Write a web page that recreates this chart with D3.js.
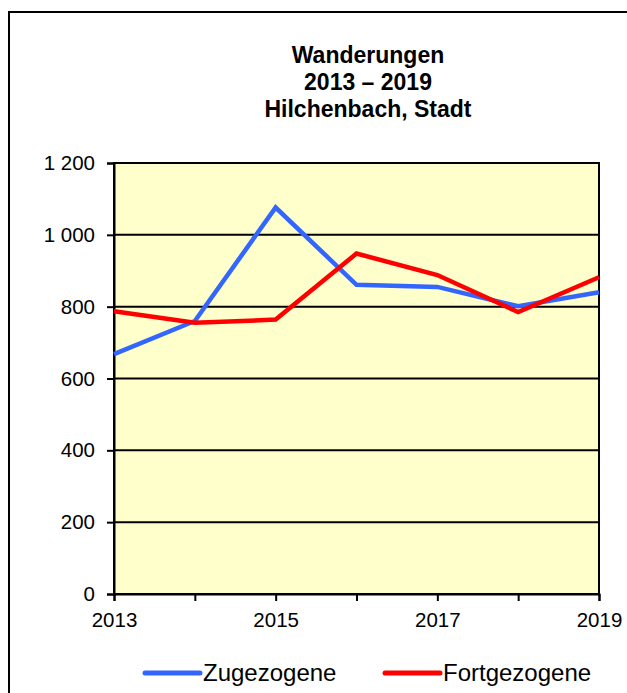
<!DOCTYPE html>
<html>
<head>
<meta charset="utf-8">
<script src="https://cdn.jsdelivr.net/npm/d3@7"></script>
<style>
  html, body { margin: 0; padding: 0; background: #fff; }
  svg { display: block; font-family: "Liberation Sans", Arial, sans-serif; }
</style>
</head>
<body>
<svg id="chart" width="627" height="693"></svg>
<script>
// Wanderungen (Zu- und Fortzüge), Hilchenbach, Stadt
const years = [2013, 2014, 2015, 2016, 2017, 2018, 2019];
const zugezogene = [668, 760, 1076, 861, 855, 801, 840];
const fortgezogene = [787, 755, 764, 948, 888, 785, 882];
const yTicks = [0, 200, 400, 600, 800, 1000, 1200];
const xLabelYears = [2013, 2015, 2017, 2019];
const titleLines = ["Wanderungen", "2013 – 2019", "Hilchenbach, Stadt"];
const seriesNames = ["Zugezogene", "Fortgezogene"];
const seriesColors = ["#3366FF", "#FF0000"];

const svg = d3.select("#chart");

// outer frame (runs past the right and bottom edge)
svg.append("rect")
  .attr("x", 9).attr("y", 12)
  .attr("width", 700).attr("height", 760)
  .attr("fill", "none").attr("stroke", "#000").attr("stroke-width", 2);

const plot = { left: 114, right: 599, top: 163, bottom: 594 };

const x = d3.scaleLinear().domain([2013, 2019]).range([plot.left, plot.right]);
const y = d3.scaleLinear().domain([0, 1200]).range([plot.bottom, plot.top]);

// plot background
svg.append("rect")
  .attr("x", plot.left).attr("y", plot.top)
  .attr("width", plot.right - plot.left).attr("height", plot.bottom - plot.top)
  .attr("fill", "#FFFFCC");

// horizontal gridlines
svg.append("g").selectAll("line")
  .data(yTicks)
  .join("line")
  .attr("x1", plot.left).attr("x2", plot.right)
  .attr("y1", d => y(d)).attr("y2", d => y(d))
  .attr("stroke", "#000").attr("stroke-width", 2);

// plot border
svg.append("rect")
  .attr("x", plot.left).attr("y", plot.top)
  .attr("width", plot.right - plot.left).attr("height", plot.bottom - plot.top)
  .attr("fill", "none").attr("stroke", "#000").attr("stroke-width", 2);

// y axis with space as thousands separator
const de = d3.formatLocale({ decimal: ",", thousands: " ", grouping: [3], currency: ["", " €"] });
const fmt = de.format(",d");

const yAxis = svg.append("g")
  .attr("transform", `translate(${plot.left},0)`)
  .call(d3.axisLeft(y).tickValues(yTicks).tickFormat(fmt).tickSize(7).tickPadding(12));
yAxis.select(".domain").attr("stroke", "#000").attr("stroke-width", 2);
yAxis.selectAll(".tick line").attr("stroke", "#000").attr("stroke-width", 2);
yAxis.selectAll(".tick text").attr("font-size", 20.5).attr("fill", "#000")
  .attr("font-family", "'Liberation Sans', Arial, sans-serif");

// x axis: tick every year, label every second year
const xAxis = svg.append("g")
  .attr("transform", `translate(0,${plot.bottom})`)
  .call(d3.axisBottom(x).tickValues(years)
    .tickFormat(d => xLabelYears.includes(d) ? String(d) : "")
    .tickSize(7).tickPadding(11));
xAxis.select(".domain").attr("stroke", "#000").attr("stroke-width", 2);
xAxis.selectAll(".tick line").attr("stroke", "#000").attr("stroke-width", 2);
xAxis.selectAll(".tick text").attr("font-size", 20.5).attr("fill", "#000")
  .attr("font-family", "'Liberation Sans', Arial, sans-serif");

// series lines
const line = d3.line().x((d, i) => x(years[i])).y(d => y(d));
[zugezogene, fortgezogene].forEach((vals, k) => {
  svg.append("path")
    .datum(vals)
    .attr("d", line)
    .attr("fill", "none")
    .attr("stroke", seriesColors[k])
    .attr("stroke-width", 4.5)
    .attr("stroke-linejoin", "miter");
});

// title
svg.append("text")
  .attr("x", 368).attr("y", 63)
  .attr("text-anchor", "middle")
  .attr("font-size", 23).attr("font-weight", "bold")
  .selectAll("tspan")
  .data(titleLines)
  .join("tspan")
  .attr("x", 368)
  .attr("dy", (d, i) => i === 0 ? 0 : 27)
  .text(d => d);

// legend
const legendX = [145, 385];
seriesNames.forEach((name, k) => {
  const g = svg.append("g");
  g.append("line")
    .attr("x1", legendX[k]).attr("x2", legendX[k] + 55)
    .attr("y1", 673).attr("y2", 673)
    .attr("stroke", seriesColors[k]).attr("stroke-width", 5)
    .attr("stroke-linecap", "round");
  g.append("text")
    .attr("x", legendX[k] + 58).attr("y", 681)
    .attr("font-size", 24)
    .text(name);
});
</script>
</body>
</html>
